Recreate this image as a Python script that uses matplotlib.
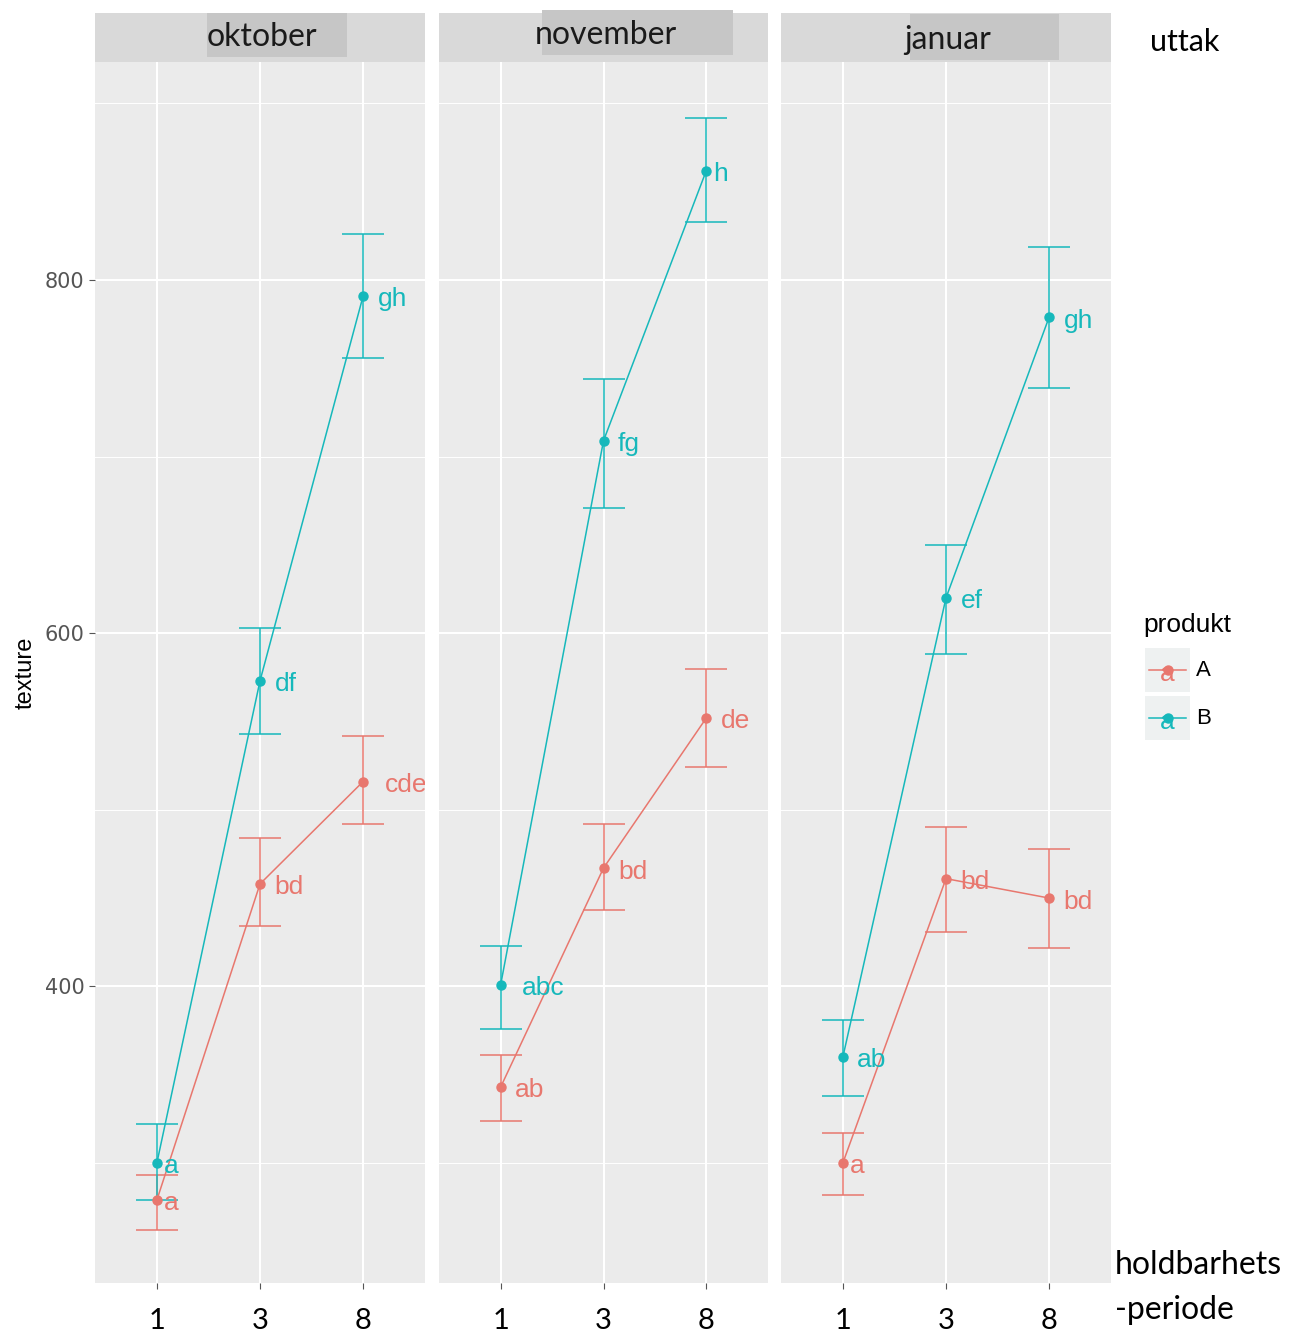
import matplotlib
matplotlib.use('Agg')
import matplotlib.pyplot as plt
from matplotlib.patches import Rectangle
from matplotlib.lines import Line2D

# --- data lest av bildet ---
uttak = ['oktober', 'november', 'januar']
periode = ['1', '3', '8']
farge_A = '#E8776E'
farge_B = '#16B8BB'

# middelverdi og grenser for feilstolpene, en rad per uttak
texture_A = [[279, 458, 516], [343, 467, 552], [300, 461, 450]]
ovre_A = [[293, 484, 542], [361, 492, 580], [317, 490, 478]]
nedre_A = [[262, 434, 492], [324, 443, 524], [282, 431, 422]]
texture_B = [[300, 573, 791], [401, 709, 862], [360, 620, 779]]
ovre_B = [[322, 603, 826], [423, 744, 892], [381, 650, 819]]
nedre_B = [[279, 543, 756], [376, 671, 833], [338, 588, 739]]
bokstav_A = [['a', 'bd', 'cde'], ['ab', 'bd', 'de'], ['a', 'bd', 'bd']]
bokstav_B = [['a', 'df', 'gh'], ['abc', 'fg', 'h'], ['ab', 'ef', 'gh']]

W, H = 1303, 1339
fig = plt.figure(figsize=(W / 100, H / 100), dpi=100)


def px(x, y):
    return x / W, 1 - y / H


panel_x = [(95, 425), (439, 768), (781, 1111)]
topp, bunn = 62, 1283
strip_boks = [(207, 347, 13, 57), (542, 733, 10, 55), (910, 1059, 14, 60)]
strip_tekst_y = [37, 35, 40]

x = [1, 2, 3]
for i, (x0, x1) in enumerate(panel_x):
    l, b = px(x0, bunn)
    r, t = px(x1, topp)
    ax = fig.add_axes([l, b, r - l, t - b])
    ax.set_facecolor('#EBEBEB')
    ax.set_xlim(0.4, 3.6)
    ax.set_ylim(232, 923.5)
    ax.set_yticks([400, 600, 800])
    ax.set_yticks([300, 500, 700, 900], minor=True)
    ax.set_xticks(x)
    ax.set_xticklabels(periode, fontsize=21, family='Lato')
    ax.grid(True, which='major', color='white', linewidth=1.5)
    ax.grid(True, which='minor', axis='y', color='white', linewidth=0.7)
    ax.set_axisbelow(True)
    for s in ax.spines.values():
        s.set_visible(False)
    ax.tick_params(axis='x', length=4, color='#555555', pad=14)
    ax.tick_params(axis='y', length=4, color='#555555', labelsize=15,
                   labelcolor='#555555')
    ax.tick_params(which='minor', length=0)
    if i > 0:
        ax.tick_params(axis='y', labelleft=False, length=0)
    else:
        ax.set_ylabel('texture', fontsize=17, family='Liberation Sans', labelpad=6)

    for y, ov, ne, bok, farge in [
        (texture_A[i], ovre_A[i], nedre_A[i], bokstav_A[i], farge_A),
        (texture_B[i], ovre_B[i], nedre_B[i], bokstav_B[i], farge_B),
    ]:
        feil = [[y[k] - ne[k] for k in range(3)], [ov[k] - y[k] for k in range(3)]]
        ax.errorbar(x, y, yerr=feil, color=farge, linewidth=1.1, capsize=15,
                    capthick=1.1, marker='o', markersize=6.5)
        for k in range(3):
            ax.annotate(bok[k], (x[k], y[k]), xytext=(5.2 * len(bok[k]), -2.5),
                        textcoords='offset points', ha='left', va='center',
                        color=farge, fontsize=19, family='Liberation Sans',
                        annotation_clip=False, clip_on=True)

    # stripe over panelet
    sl, sb = px(x0, topp)
    sr, st = px(x1, 13)
    fig.add_artist(Rectangle((sl, sb), sr - sl, st - sb, transform=fig.transFigure,
                             facecolor='#D9D9D9', edgecolor='none'))
    bx0, bx1, by0, by1 = strip_boks[i]
    bl, bb = px(bx0, by1)
    br, bt = px(bx1, by0)
    fig.add_artist(Rectangle((bl, bb), br - bl, bt - bb, transform=fig.transFigure,
                             facecolor='#C6C6C6', edgecolor='none'))
    tx, ty = px((x0 + x1) / 2 + 2, strip_tekst_y[i])
    fig.text(tx, ty, uttak[i], ha='center', va='center', fontsize=23,
             family='Lato', color='#1A1A1A')

# tekster lagt til i margen
fig.text(*px(1150, 42), 'uttak', fontsize=22, family='Lato', va='center')
fig.text(*px(1115, 1265), 'holdbarhets', fontsize=23, family='Lato', va='center')
fig.text(*px(1115, 1310), '-periode', fontsize=23, family='Lato', va='center')

# legende
fig.text(*px(1143, 625), 'produkt', fontsize=19, family='Liberation Sans', va='center')
for nr, (navn, farge) in enumerate([('A', farge_A), ('B', farge_B)]):
    yk = 670 + 48 * nr
    kl, kb = px(1145, yk + 22)
    kr, kt = px(1190, yk - 22)
    fig.add_artist(Rectangle((kl, kb), kr - kl, kt - kb, transform=fig.transFigure,
                             facecolor='#EEF1F1', edgecolor='none'))
    lx0, ly = px(1149, yk)
    lx1, _ = px(1186, yk)
    fig.add_artist(Line2D([lx0, lx1], [ly, ly], transform=fig.transFigure,
                          color=farge, linewidth=1.1))
    fig.add_artist(Line2D([(lx0 + lx1) / 2], [ly], transform=fig.transFigure,
                          color=farge, marker='o', markersize=6.5))
    fig.text((lx0 + lx1) / 2, ly - 0.003, 'a', color=farge, fontsize=19,
             family='Liberation Sans', ha='center', va='center')
    fig.text(*px(1196, yk), navn, fontsize=16, family='Liberation Sans', va='center')

plt.savefig('out.png', dpi=100, facecolor='white')
